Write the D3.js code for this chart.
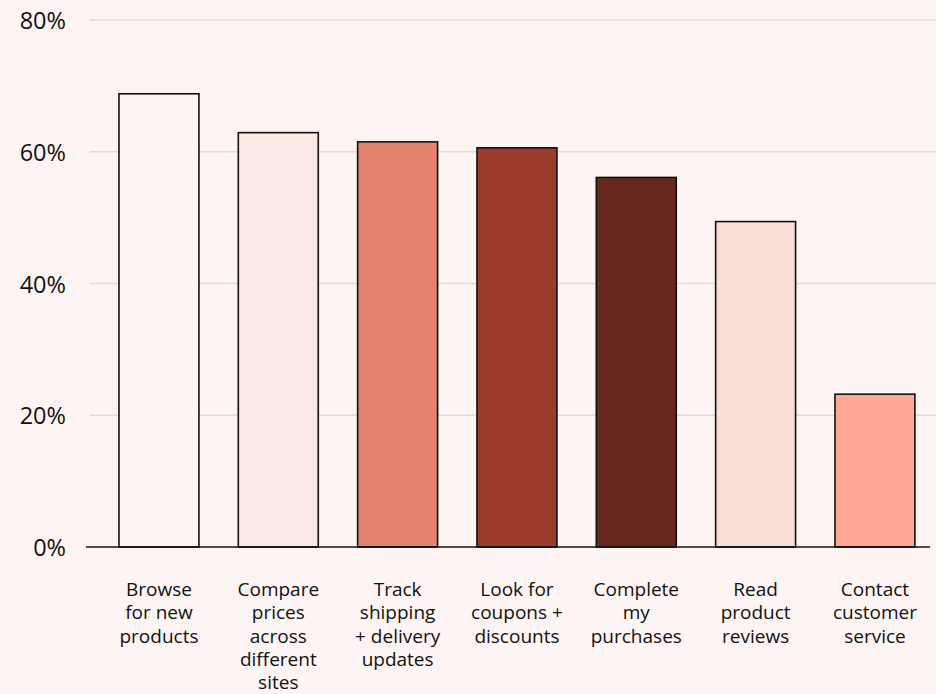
<!DOCTYPE html>
<html><head><meta charset="utf-8">
<script src="https://cdn.jsdelivr.net/npm/d3@7"></script>
<style>
html,body{margin:0;padding:0;background:#fdf5f3;}
svg{display:block;font-family:"Open Sans",sans-serif;}
</style></head>
<body><svg id="c" width="936" height="694"></svg>
<script>
const categories = [
  ["Browse","for new","products"],
  ["Compare","prices","across","different","sites"],
  ["Track","shipping","+ delivery","updates"],
  ["Look for","coupons +","discounts"],
  ["Complete","my","purchases"],
  ["Read","product","reviews"],
  ["Contact","customer","service"]
];
const values = [68.8, 62.9, 61.5, 60.6, 56.1, 49.4, 23.2];
const colors = ["#fff5f2","#fbe9e5","#e3826f","#9a3b2c","#67281f","#f9ddd7","#fda796"];
const yTicks = [0, 20, 40, 60, 80];

const svg = d3.select("#c");
const y = d3.scaleLinear().domain([0, 80]).range([547, 20]);
const x = d3.scaleBand().domain(d3.range(categories.length))
  .range([79.6, 954.3]).paddingInner(0.33).paddingOuter(0.33);

// grid
svg.append("g").selectAll("line").data(yTicks.filter(d => d > 0)).join("line")
  .attr("x1", 90).attr("x2", 936)
  .attr("y1", d => y(d)).attr("y2", d => y(d))
  .attr("stroke", "#dcdcdc").attr("stroke-width", 1.5);

// y labels
svg.append("g").selectAll("text").data(yTicks).join("text")
  .attr("x", 66).attr("y", d => y(d))
  .attr("text-anchor", "end").attr("dominant-baseline", "central")
  .attr("font-size", 23.5).attr("fill", "#111")
  .text(d => d + "%");

// bars
svg.append("g").selectAll("rect").data(values).join("rect")
  .attr("x", (d, i) => x(i)).attr("width", x.bandwidth())
  .attr("y", d => y(d)).attr("height", d => y(0) - y(d))
  .attr("fill", (d, i) => colors[i])
  .attr("stroke", "#111").attr("stroke-width", 1.6);

// baseline
svg.append("line").attr("x1", 86).attr("x2", 930)
  .attr("y1", y(0)).attr("y2", y(0))
  .attr("stroke", "#111").attr("stroke-width", 1.6);

// x labels
const lab = svg.append("g").selectAll("text").data(categories).join("text")
  .attr("text-anchor", "middle").attr("font-size", 19).attr("fill", "#111")
  .attr("transform", (d, i) => `translate(${x(i) + x.bandwidth() / 2},596)`);
lab.selectAll("tspan").data(d => d).join("tspan")
  .attr("x", 0).attr("y", (d, j) => j * 23.3)
  .text(d => d);
</script></body></html>
